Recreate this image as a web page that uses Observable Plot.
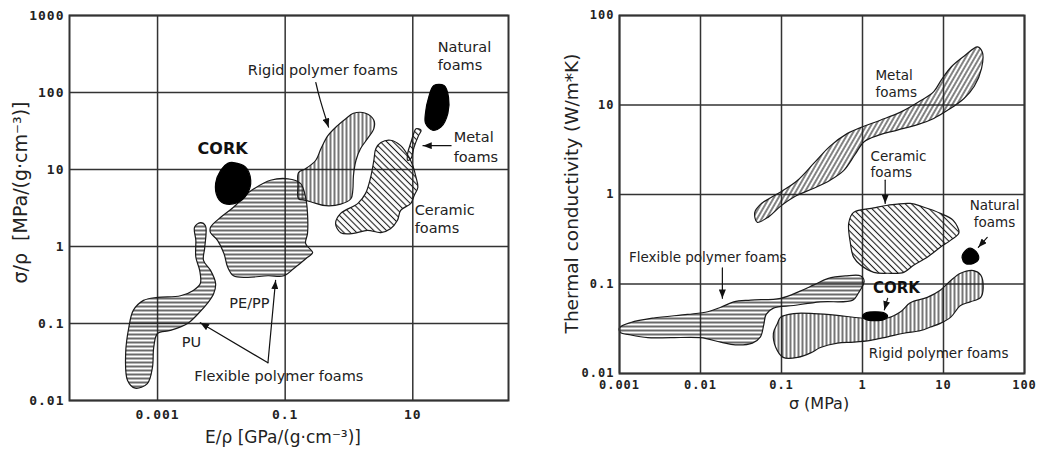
<!DOCTYPE html>
<html>
<head>
<meta charset="utf-8">
<script src="https://cdn.jsdelivr.net/npm/d3@7"></script>
<script src="https://cdn.jsdelivr.net/npm/@observablehq/plot@0.6"></script>
<style>
  html, body { margin: 0; padding: 0; background: #fff; }
  #figure { position: relative; width: 1037px; height: 449px; overflow: hidden; }
  #figure svg.panel { position: absolute; top: 0; }
  g[aria-label$="tick label"] text { letter-spacing: 1px; }
</style>
</head>
<body>
<!-- shared hatch fills and arrowhead -->
<svg width="0" height="0" style="position:absolute">
  <defs>
    <pattern id="hatch-h" patternUnits="userSpaceOnUse" width="8" height="4">
      <line x1="0" y1="2" x2="8" y2="2" stroke="#1a1a1a" stroke-width="1.3"/>
    </pattern>
    <pattern id="hatch-v" patternUnits="userSpaceOnUse" width="4" height="8">
      <line x1="2" y1="0" x2="2" y2="8" stroke="#1a1a1a" stroke-width="1.2"/>
    </pattern>
    <pattern id="hatch-back" patternUnits="userSpaceOnUse" width="4.5" height="8" patternTransform="rotate(-45)">
      <line x1="2.25" y1="0" x2="2.25" y2="8" stroke="#1a1a1a" stroke-width="1.1"/>
    </pattern>
    <pattern id="hatch-fwd" patternUnits="userSpaceOnUse" width="4" height="8" patternTransform="rotate(30)">
      <line x1="2" y1="0" x2="2" y2="8" stroke="#1a1a1a" stroke-width="1.1"/>
    </pattern>
    <marker id="arrowhead" viewBox="0 0 10 8" refX="10" refY="4" markerWidth="9" markerHeight="7"
            markerUnits="userSpaceOnUse" orient="auto">
      <path d="M0,0L10,4L0,8Z" fill="#111"/>
    </marker>
  </defs>
</svg>
<div id="figure"></div>
<script>
// ---------- Specific strength vs specific stiffness ----------
const strengthXTicks = [0.001, 0.1, 10];
const strengthXTickLabels = ["0.001", "0.1", "10"];
const strengthYTicks = [0.01, 0.1, 1, 10, 100, 1000];
const strengthYTickLabels = ["0.01", "0.1", "1", "10", "100", "1000"];

// region outlines, vertices given as [log10 E/ρ, log10 σ/ρ]
const puRegion = [[-2.33,0.31],[-2.25,0.27],[-2.26,-0.01],[-2.28,-0.18],[-2.17,-0.31],[-2.09,-0.48],[-2.12,-0.61],[-2.22,-0.74],[-2.36,-0.87],[-2.53,-1.00],[-2.80,-1.09],[-3.00,-1.13],[-3.06,-1.31],[-3.08,-1.57],[-3.16,-1.78],[-3.35,-1.84],[-3.47,-1.74],[-3.50,-1.39],[-3.45,-1.05],[-3.38,-0.83],[-3.22,-0.70],[-3.00,-0.66],[-2.64,-0.64],[-2.44,-0.57],[-2.33,-0.48],[-2.34,-0.31],[-2.40,-0.14],[-2.40,0.08],[-2.42,0.25]];
const pePpRegion = [[-2.17,0.25],[-2.01,0.38],[-1.81,0.51],[-1.59,0.69],[-1.49,0.75],[-1.23,0.86],[-0.96,0.88],[-0.76,0.82],[-0.68,0.64],[-0.65,0.43],[-0.65,0.17],[-0.68,0.04],[-0.57,-0.08],[-0.65,-0.14],[-0.87,-0.29],[-1.02,-0.38],[-1.27,-0.38],[-1.59,-0.40],[-1.81,-0.38],[-1.90,-0.27],[-1.96,-0.09],[-2.06,0.08],[-2.17,0.18]];
const corkStrength = [[-1.81,1.09],[-1.62,1.03],[-1.54,0.86],[-1.59,0.69],[-1.75,0.57],[-1.96,0.56],[-2.06,0.64],[-2.09,0.82],[-2.01,0.99],[-1.90,1.08]];
const rigidStrength = [[0.07,1.73],[0.26,1.73],[0.39,1.64],[0.39,1.53],[0.29,1.40],[0.18,1.27],[0.11,1.12],[0.07,0.92],[0.06,0.73],[0.03,0.62],[-0.13,0.55],[-0.36,0.53],[-0.52,0.56],[-0.68,0.60],[-0.79,0.62],[-0.80,0.79],[-0.79,0.96],[-0.68,1.01],[-0.52,1.12],[-0.44,1.27],[-0.33,1.44],[-0.18,1.57],[-0.05,1.66]];
const ceramicStrength = [[0.50,1.35],[0.65,1.38],[0.81,1.31],[0.94,1.16],[1.00,1.05],[1.05,0.90],[1.08,0.77],[1.02,0.66],[0.97,0.56],[0.81,0.47],[0.76,0.34],[0.65,0.23],[0.50,0.18],[0.29,0.21],[0.07,0.17],[-0.13,0.18],[-0.21,0.30],[-0.13,0.43],[0.14,0.56],[0.26,0.69],[0.34,0.90],[0.39,1.12],[0.42,1.27]];
const metalStrength = [[1.05,1.53],[1.13,1.51],[1.09,1.44],[1.02,1.29],[0.97,1.14],[0.92,1.12],[0.92,1.21],[0.97,1.35],[1.02,1.48]];
const naturalStrength = [[1.33,2.09],[1.49,2.09],[1.56,1.94],[1.55,1.73],[1.44,1.55],[1.31,1.51],[1.20,1.60],[1.20,1.74],[1.25,1.94]];

const strengthArrows = [
  [[-0.52,2.13],[-0.45,1.90],[-0.32,1.55]],
  [[1.60,1.31],[1.16,1.31]],
  [[-1.27,-1.51],[-2.33,-0.99]],
  [[-1.27,-1.51],[-1.15,-0.44]]
];
const strengthLabelsCentered = [
  [-0.41, 2.29, "Rigid polymer foams"],
  [-1.56, -0.74, "PE/PP"],
  [-2.47, -1.25, "PU"],
  [-1.10, -1.68, "Flexible polymer foams"]
];
const strengthLabelsLeft = [
  [1.39, 2.58, "Natural"], [1.39, 2.35, "foams"],
  [1.64, 1.42, "Metal"], [1.64, 1.16, "foams"],
  [1.03, 0.47, "Ceramic"], [1.03, 0.23, "foams"]
];
const strengthLabelsBold = [[-1.98, 1.27, "CORK"]];

// ---------- Thermal conductivity vs strength ----------
const thermalXTicks = [0.001, 0.01, 0.1, 1, 10, 100];
const thermalXTickLabels = ["0.001", "0.01", "0.1", "1", "10", "100"];
const thermalYTicks = [0.01, 0.1, 1, 10, 100];
const thermalYTickLabels = ["0.01", "0.1", "1", "10", "100"];

// region outlines, vertices given as [log10 σ, log10 conductivity]
const metalThermal = [[-1.30,-0.31],[-1.33,-0.20],[-1.26,-0.11],[-1.14,-0.04],[-0.99,0.04],[-0.80,0.16],[-0.60,0.35],[-0.40,0.54],[-0.19,0.68],[0.01,0.76],[0.22,0.83],[0.47,0.92],[0.72,1.05],[0.88,1.15],[0.98,1.29],[1.10,1.43],[1.26,1.55],[1.42,1.65],[1.48,1.59],[1.47,1.41],[1.38,1.21],[1.25,1.07],[1.05,0.94],[0.88,0.85],[0.68,0.78],[0.43,0.72],[0.19,0.66],[0.02,0.59],[-0.09,0.45],[-0.23,0.27],[-0.40,0.16],[-0.60,0.07],[-0.83,-0.02],[-1.01,-0.13],[-1.16,-0.25]];
const ceramicThermal = [[-0.11,-0.20],[0.14,-0.15],[0.31,-0.12],[0.59,-0.10],[0.75,-0.14],[0.96,-0.21],[1.12,-0.29],[1.19,-0.43],[1.09,-0.51],[0.96,-0.59],[0.80,-0.70],[0.63,-0.79],[0.51,-0.87],[0.31,-0.88],[0.14,-0.87],[-0.02,-0.79],[-0.11,-0.70],[-0.15,-0.54],[-0.17,-0.32]];
const flexibleThermal = [[-3.00,-1.49],[-2.86,-1.43],[-2.58,-1.38],[-2.16,-1.34],[-1.91,-1.31],[-1.75,-1.26],[-1.59,-1.20],[-1.38,-1.18],[-1.01,-1.16],[-0.77,-1.08],[-0.60,-1.01],[-0.43,-0.94],[-0.21,-0.91],[-0.02,-0.91],[0.02,-0.97],[-0.05,-1.10],[-0.12,-1.18],[-0.52,-1.20],[-0.85,-1.24],[-1.10,-1.27],[-1.19,-1.34],[-1.22,-1.46],[-1.26,-1.59],[-1.36,-1.66],[-1.57,-1.68],[-1.75,-1.65],[-2.00,-1.60],[-2.37,-1.60],[-2.65,-1.60],[-2.86,-1.57],[-2.99,-1.54]];
const rigidThermal = [[-1.05,-1.44],[-1.01,-1.37],[-0.85,-1.33],[-0.60,-1.33],[-0.31,-1.35],[-0.02,-1.38],[0.31,-1.38],[0.47,-1.31],[0.59,-1.21],[0.80,-1.15],[0.96,-1.07],[1.09,-0.96],[1.21,-0.88],[1.37,-0.85],[1.46,-0.90],[1.49,-1.04],[1.46,-1.15],[1.33,-1.20],[1.21,-1.24],[1.09,-1.37],[0.96,-1.44],[0.84,-1.48],[0.72,-1.52],[0.51,-1.55],[0.31,-1.59],[0.10,-1.63],[-0.11,-1.65],[-0.31,-1.66],[-0.52,-1.71],[-0.64,-1.77],[-0.80,-1.82],[-0.98,-1.82],[-1.07,-1.71],[-1.10,-1.55]];
const corkThermal = [[0.00,-1.36],[0.05,-1.32],[0.15,-1.31],[0.26,-1.32],[0.31,-1.36],[0.26,-1.40],[0.15,-1.41],[0.05,-1.40]];
const naturalThermal = [[1.25,-0.65],[1.33,-0.60],[1.42,-0.66],[1.43,-0.73],[1.37,-0.77],[1.27,-0.77],[1.23,-0.71]];

const thermalArrows = [
  [[0.28,0.16],[0.28,-0.10]],
  [[1.54,-0.48],[1.43,-0.59]],
  [[0.31,-1.16],[0.27,-1.29]],
  [[-1.73,-0.82],[-1.73,-1.16]]
];
const thermalLabelsCentered = [
  [1.63, -0.12, "Natural"], [1.63, -0.32, "foams"],
  [-1.91, -0.71, "Flexible polymer foams"],
  [0.94, -1.78, "Rigid polymer foams"]
];
const thermalLabelsLeft = [
  [0.16, 1.33, "Metal"], [0.16, 1.14, "foams"],
  [0.10, 0.42, "Ceramic"], [0.10, 0.24, "foams"]
];
const thermalLabelsBold = [[0.42, -1.05, "CORK"]];

// ---------- helpers ----------
const ink = "#1a1a1a";
const sans = "DejaVu Sans";
const mono = "DejaVu Sans Mono";

const region = (vertices, fill) =>
  Plot.line(vertices.map(([lx, ly]) => ({x: 10 ** lx, y: 10 ** ly})), {
    x: "x", y: "y", curve: "catmull-rom-closed",
    fill, stroke: fill === "#000" ? "#000" : ink, strokeWidth: 1.2
  });

const arrowLines = (list) =>
  Plot.line(list.flatMap((pts, id) => pts.map(([lx, ly]) => ({id, x: 10 ** lx, y: 10 ** ly}))), {
    x: "x", y: "y", z: "id", curve: "natural",
    stroke: "#111", strokeWidth: 1.2, ariaDescription: "arrows"
  });

const labelMark = (rows, opts) =>
  Plot.text(rows, {
    x: d => 10 ** d[0], y: d => 10 ** d[1], text: d => d[2],
    fill: "#222", fontFamily: sans, ...opts
  });

const tickLabel = (ticks, labels) => d => labels[ticks.indexOf(d)];

function panel(cfg) {
  const svg = Plot.plot({
    width: cfg.width, height: 449,
    marginLeft: cfg.ml, marginRight: cfg.mr, marginTop: 15, marginBottom: cfg.mb,
    style: {background: "transparent", fontFamily: sans, color: "#222", overflow: "visible"},
    x: {type: "log", domain: cfg.xDomain},
    y: {type: "log", domain: cfg.yDomain},
    marks: [
      Plot.gridX({ticks: cfg.xTicks, stroke: "#333", strokeOpacity: 1, strokeWidth: 1.5}),
      Plot.gridY({ticks: cfg.yTicks, stroke: "#333", strokeOpacity: 1, strokeWidth: 1.5}),
      ...cfg.regions,
      Plot.frame({stroke: "#333", strokeWidth: 2}),
      Plot.axisX({ticks: cfg.xTicks, tickFormat: tickLabel(cfg.xTicks, cfg.xLabels), tickSize: 0,
        tickPadding: cfg.xPad, fontSize: cfg.tickSize, fontFamily: mono, fontWeight: "bold", label: null}),
      Plot.axisY({ticks: cfg.yTicks, tickFormat: tickLabel(cfg.yTicks, cfg.yLabels), tickSize: 0,
        tickPadding: 5, fontSize: cfg.tickSize, fontFamily: mono, fontWeight: "bold", label: null}),
      arrowLines(cfg.arrows),
      labelMark(cfg.centered, {fontSize: cfg.annSize}),
      labelMark(cfg.left, {fontSize: cfg.annSize, textAnchor: "start"}),
      labelMark(cfg.bold, {fontSize: cfg.boldSize, fontWeight: "bold", fill: "#111"}),
      Plot.text([cfg.xTitle], {text: d => d, frameAnchor: "bottom", dx: cfg.xTitleDx, dy: cfg.xTitleDy,
        textAnchor: "middle", lineAnchor: "middle",
        fontSize: cfg.xTitleSize, fontFamily: sans, fill: "#222"}),
      Plot.text([cfg.yTitle], {text: d => d, frameAnchor: "left", rotate: -90, dx: cfg.yTitleDx, dy: cfg.yTitleDy,
        textAnchor: "middle", lineAnchor: "middle",
        fontSize: cfg.yTitleSize, fontFamily: sans, fill: "#222"})
    ]
  });
  svg.classList.add("panel");
  svg.style.left = cfg.left0 + "px";
  svg.querySelectorAll('g[aria-description="arrows"] path')
    .forEach(p => p.setAttribute("marker-end", "url(#arrowhead)"));
  return svg;
}

const figure = document.getElementById("figure");

figure.append(panel({
  left0: 0, width: 520, ml: 69, mr: 12, mb: 49,
  xDomain: [10 ** -4.38, 10 ** 2.5], yDomain: [0.01, 1000],
  xTicks: strengthXTicks, xLabels: strengthXTickLabels,
  yTicks: strengthYTicks, yLabels: strengthYTickLabels,
  xPad: 9, tickSize: 13,
  regions: [
    region(puRegion, "url(#hatch-h)"),
    region(pePpRegion, "url(#hatch-h)"),
    region(rigidStrength, "url(#hatch-v)"),
    region(ceramicStrength, "url(#hatch-back)"),
    region(metalStrength, "url(#hatch-back)"),
    region(corkStrength, "#000"),
    region(naturalStrength, "#000")
  ],
  arrows: strengthArrows,
  centered: strengthLabelsCentered, left: strengthLabelsLeft, bold: strengthLabelsBold,
  annSize: 14.5, boldSize: 16, xTitleSize: 17, yTitleSize: 19,
  xTitle: "E/ρ [GPa/(g·cm⁻³)]", xTitleDx: -6, xTitleDy: 37,
  yTitle: "σ/ρ  [MPa/(g·cm⁻³)]", yTitleDx: -49, yTitleDy: -15.5
}));

figure.append(panel({
  left0: 520, width: 517, ml: 99, mr: 13, mb: 76,
  xDomain: [0.001, 100], yDomain: [0.01, 100],
  xTicks: thermalXTicks, xLabels: thermalXTickLabels,
  yTicks: thermalYTicks, yLabels: thermalYTickLabels,
  xPad: 7, tickSize: 12,
  regions: [
    region(metalThermal, "url(#hatch-fwd)"),
    region(ceramicThermal, "url(#hatch-back)"),
    region(flexibleThermal, "url(#hatch-h)"),
    region(rigidThermal, "url(#hatch-v)"),
    region(corkThermal, "#000"),
    region(naturalThermal, "#000")
  ],
  arrows: thermalArrows,
  centered: thermalLabelsCentered, left: thermalLabelsLeft, bold: thermalLabelsBold,
  annSize: 13.5, boldSize: 15, xTitleSize: 16, yTitleSize: 18.5,
  xTitle: "σ (MPa)", xTitleDx: -3, xTitleDy: 30,
  yTitle: "Thermal conductivity (W/m*K)", yTitleDx: -47, yTitleDy: -1
}));
</script>
</body>
</html>
